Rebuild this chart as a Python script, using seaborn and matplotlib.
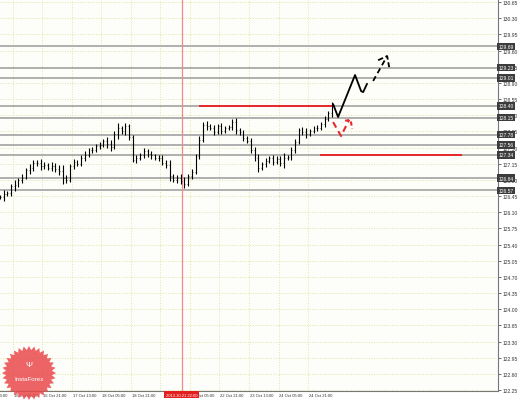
import numpy as np
import pandas as pd
import matplotlib
matplotlib.use("Agg")
import matplotlib.pyplot as plt
import matplotlib.transforms as mtransforms
from matplotlib.patches import Polygon
import seaborn as sns

# --------------------------------------------------
# DATA (H1 bars, two hours per drawn bar)
# --------------------------------------------------

closes = [126.43, 126.50, 126.52, 126.66, 126.69, 126.80, 126.85, 127.01, 127.05, 127.16,
          127.17, 127.10, 127.12, 127.06, 127.11, 127.03, 127.00, 126.84, 126.80, 127.10,
          127.19, 127.15, 127.28, 127.34, 127.45, 127.44, 127.53, 127.56, 127.64, 127.57,
          127.52, 127.80, 127.92, 127.85, 127.96, 127.72, 127.23, 127.27, 127.34, 127.42,
          127.35, 127.33, 127.27, 127.28, 127.17, 127.12, 126.88, 126.80, 126.85, 126.78,
          126.72, 126.88, 126.97, 127.32, 127.67, 127.99, 127.96, 127.92, 127.84, 127.96,
          127.86, 127.92, 127.95, 128.05, 127.88, 127.83, 127.70, 127.64, 127.45, 127.27,
          127.06, 127.14, 127.21, 127.27, 127.19, 127.26, 127.17, 127.27, 127.29, 127.45,
          127.62, 127.88, 127.84, 127.79, 127.86, 127.92, 127.93, 128.01, 128.12, 128.25,
          128.40]

wick = [0.05, 0.08, 0.04, 0.06, 0.10, 0.05, 0.07, 0.04, 0.09, 0.06,
        0.05, 0.08, 0.06, 0.04, 0.07, 0.05, 0.09, 0.12, 0.06, 0.05,
        0.07, 0.04, 0.06, 0.08, 0.05, 0.06, 0.04, 0.07, 0.05, 0.08,
        0.10, 0.06, 0.12, 0.05, 0.08, 0.06, 0.05, 0.07, 0.04, 0.06,
        0.05, 0.08, 0.04, 0.06, 0.05, 0.07, 0.10, 0.05, 0.06, 0.08,
        0.09, 0.05, 0.06, 0.05, 0.07, 0.06, 0.08, 0.04, 0.06, 0.05,
        0.07, 0.05, 0.04, 0.06, 0.08, 0.05, 0.06, 0.05, 0.07, 0.06,
        0.10, 0.05, 0.06, 0.04, 0.07, 0.05, 0.06, 0.12, 0.05, 0.06,
        0.07, 0.05, 0.06, 0.08, 0.05, 0.04, 0.06, 0.05, 0.07, 0.05,
        0.08]

hours_per_bar = 2

# support / resistance levels (grey)
levels = [129.69, 129.23, 129.01, 128.40, 128.15, 127.78, 127.56, 127.34, 126.84, 126.57]

# red levels: (price, hour start, hour end)
red_levels = [(128.40, 108, 180), (127.34, 173.5, 250.5)]

cursor_hour = 98.5
cursor_label = "2013.10.21 22:00"

# grid / tick hours; the 21 Oct 13:00 label sits under the cursor label
time_ticks = [-9, 7, 23, 39, 55, 71, 87, 103, 119, 135, 151, 167]
time_labels = ["15 Oct 13:00", "16 Oct 05:00", "16 Oct 21:00", "17 Oct 13:00",
               "18 Oct 05:00", "18 Oct 21:00", "", "22 Oct 05:00",
               "22 Oct 21:00", "23 Oct 13:00", "24 Oct 05:00", "24 Oct 21:00"]

# forecast arrows
main_x = [180.6, 183.3, 192.5, 195.8, 196.9, 199.0]
main_y = [128.44, 128.16, 129.07, 128.72, 128.70, 128.88]
cont_x = [202.3, 209.9]
cont_y = [128.94, 129.48]
cont_head_x = [205.0, 209.9, 211.0]
cont_head_y = [129.39, 129.48, 129.24]
alt_x = [180.6, 184.9, 189.3]
alt_y = [128.05, 127.75, 128.10]
alt_head_x = [187.1, 190.1, 190.9]
alt_head_y = [128.08, 128.10, 127.90]

# --------------------------------------------------
# FIGURE
# --------------------------------------------------

sns.set_theme(style="white")
plt.rcParams["font.family"] = ["Liberation Sans", "DejaVu Sans"]

W, H = 519, 402
fig = plt.figure(figsize=(W / 100, H / 100), dpi=100)
fig.patch.set_facecolor("white")
ax = fig.add_axes([0, 1 - 392 / H, 498 / W, 392 / H])
ax.set_facecolor("#fdfdf9")

ax.set_xlim(0, 270)
ax.set_ylim(122.23, 130.715)

yt = np.round(np.arange(122.25, 130.66, 0.35), 2)
ax.set_yticks(yt)
ax.set_yticklabels([f"{v:.2f}" for v in yt])
ax.yaxis.tick_right()
ax.tick_params(axis="y", labelsize=3.6, colors="#333333", length=2, width=0.5, pad=1)
ax.set_xticks([t for t in time_ticks if t >= 0])
ax.tick_params(axis="x", length=2, width=0.5, labelbottom=False, colors="#555555")
ax.grid(True, color="#e4e4a8", linestyle=":", linewidth=0.7)

for s in ["top", "left"]:
    ax.spines[s].set_visible(False)
for s in ["right", "bottom"]:
    ax.spines[s].set_color("#777777")
    ax.spines[s].set_linewidth(0.8)

# grey levels
for v in levels:
    ax.axhline(v, color="#a9a9a9", linewidth=1.3, zorder=1)
    ax.text(1.001, v, f"{v:.2f}", transform=ax.get_yaxis_transform(), fontsize=3.6,
            color="white", ha="left", va="center", zorder=6,
            bbox=dict(boxstyle="square,pad=0.25", fc="#3c3c3c", ec="none"))

# cursor line
ax.axvline(cursor_hour, color="#f08a8a", linewidth=0.9, zorder=1)

# price bars
bars = pd.DataFrame({"close": closes, "wick": wick})
bars["hour"] = np.arange(len(bars)) * hours_per_bar
bars["open"] = bars["close"].shift(1).fillna(bars["close"].iloc[0])
bars["high"] = bars[["open", "close"]].max(axis=1) + bars["wick"]
bars["low"] = bars[["open", "close"]].min(axis=1) - bars["wick"]
ax.vlines(bars["hour"], bars["low"], bars["high"], color="black", linewidth=0.8, zorder=3)
ax.hlines(bars["open"], bars["hour"] - 0.5, bars["hour"], color="black", linewidth=0.4, zorder=3)
ax.hlines(bars["close"], bars["hour"], bars["hour"] + 0.5, color="black", linewidth=0.4, zorder=3)

# red levels
for v, h0, h1 in red_levels:
    ax.hlines(v, h0, h1, color="#e8282c", linewidth=1.4, zorder=4)

# forecast arrows
sns.lineplot(x=main_x, y=main_y, sort=False, estimator=None, color="black",
             linewidth=1.3, ax=ax, zorder=5)
sns.lineplot(x=cont_x, y=cont_y, sort=False, estimator=None, color="black",
             linewidth=1.3, linestyle=(0, (3, 2)), ax=ax, zorder=5)
sns.lineplot(x=cont_head_x, y=cont_head_y, sort=False, estimator=None, color="black",
             linewidth=1.3, linestyle=(0, (3, 1.5)), ax=ax, zorder=5)
sns.lineplot(x=alt_x, y=alt_y, sort=False, estimator=None, color="#e8282c",
             linewidth=1.5, linestyle=(0, (3, 2)), ax=ax, zorder=5)
sns.lineplot(x=alt_head_x, y=alt_head_y, sort=False, estimator=None, color="#e8282c",
             linewidth=1.5, linestyle=(0, (2, 1.5)), ax=ax, zorder=5)
ax.set_xlabel("")
ax.set_ylabel("")

# time labels under the axis
tr = mtransforms.blended_transform_factory(ax.transData, ax.transAxes)
for t, lab in zip(time_ticks, time_labels):
    if lab:
        ax.text(t + 0.5, -0.004, lab, transform=tr, fontsize=3, color="#333333",
                ha="left", va="top", clip_on=False)
ax.text(cursor_hour, -0.004, cursor_label, transform=tr, fontsize=3, color="white",
        ha="center", va="top", clip_on=False, zorder=7,
        bbox=dict(boxstyle="square,pad=0.35", fc="#e21e1e", ec="none"))

# logo badge
cx, cy, r_out, r_in, n = 29, 374, 27, 23, 32
ang = np.linspace(0, 2 * np.pi, 2 * n, endpoint=False)
rad = np.where(np.arange(2 * n) % 2 == 0, r_out, r_in)
px = cx + rad * np.cos(ang)
py = cy + rad * np.sin(ang)
star = Polygon(np.column_stack([px / W, 1 - py / H]), closed=True, transform=fig.transFigure,
               fc="#e9494b", ec="none", alpha=0.85, zorder=10)
fig.patches.append(star)
fig.text(cx / W, 1 - 380 / H, "InstaForex", fontsize=4.5, color="white",
         ha="center", va="center", zorder=11)
fig.text(cx / W, 1 - 366 / H, "\u03a8", fontsize=6, color="white",
         ha="center", va="center", zorder=11)

fig.savefig("out.png", dpi=100)
